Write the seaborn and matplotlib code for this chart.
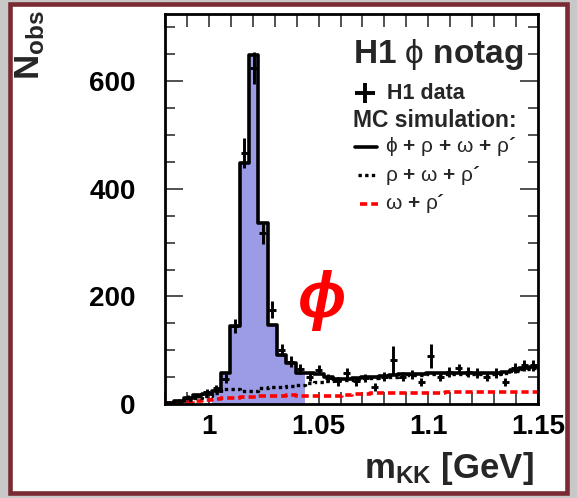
import numpy as np
import pandas as pd
import matplotlib
matplotlib.use("Agg")
import matplotlib.pyplot as plt
import seaborn as sns
from matplotlib.patches import Rectangle
from matplotlib.ticker import MultipleLocator

# binning: 40 bins between 0.98 and 1.15 GeV
bin_lo, bin_hi, n_bins = 0.98, 1.15, 40

# MC total: phi + rho + omega + rho'
mc_total = [2, 5, 11, 16, 18, 25, 57, 145, 448, 649,
            336, 147, 92, 77, 57, 57, 55, 50, 47, 47,
            48, 50, 51, 52, 54, 55, 55, 56, 57, 57,
            58, 58, 58, 58, 57, 58, 60, 64, 67, 68]
# MC rho + omega + rho'
mc_no_phi = [2, 4, 8, 12, 15, 20, 28, 27, 24, 24,
             29, 31, 32, 34, 36, 39, 41, 43, 44, 45,
             46, 48, 49, 50, 51, 52, 53, 54, 55, 55,
             56, 56, 56, 56, 55, 56, 58, 62, 65, 66]
# MC omega + rho'
mc_omega_rhop = [1, 2, 4, 6, 8, 10, 12, 12, 13, 13,
                 14, 15, 15, 16, 15, 15, 15, 15, 15, 16,
                 19, 19, 20, 20, 21, 21, 21, 21, 21, 21,
                 22, 22, 22, 23, 22, 22, 22, 22, 22, 22]
# H1 data and errors
data_vals = [2, 6, 12, 15, 22, 30, 47, 145, 466, 624,
             318, 175, 100, 79, 65, 51, 64, 48, 42, 58,
             42, 48, 32, 51, 82, 51, 55, 41, 89, 51,
             60, 66, 60, 57, 51, 57, 41, 67, 72, 72]
data_errs = [2, 3, 4, 4, 6, 6, 8, 13, 28, 30,
             20, 16, 11, 10, 9, 8, 9, 8, 8, 9,
             8, 8, 7, 8, 26, 8, 8, 8, 23, 8,
             9, 9, 9, 9, 8, 9, 8, 9, 10, 10]
# bins shaded as phi signal region
phi_first, phi_last = 5, 14

xtick_vals = [1.0, 1.05, 1.1, 1.15]
xtick_labels = ["1", "1.05", "1.1", "1.15"]
ytick_vals = [0, 200, 400, 600]
ytick_labels = ["0", "200", "400", "600"]

edges = np.linspace(bin_lo, bin_hi, n_bins + 1)
centers = 0.5 * (edges[:-1] + edges[1:])

df = pd.DataFrame({
    "m": centers,
    "total": mc_total,
    "no_phi": mc_no_phi,
    "omega_rhop": mc_omega_rhop,
    "data": data_vals,
    "err": data_errs,
})
df_phi = df.iloc[phi_first:phi_last + 1]

sns.set_style("ticks")
plt.rcParams["font.family"] = ["Liberation Sans", "DejaVu Sans"]
plt.rcParams["mathtext.fontset"] = "custom"
plt.rcParams["mathtext.rm"] = "Liberation Sans"
plt.rcParams["mathtext.it"] = "Liberation Sans:italic"
plt.rcParams["mathtext.bf"] = "Liberation Sans:bold"

fig = plt.figure(figsize=(5.77, 4.98), dpi=100)
fig.patch.set_facecolor("#c8c8c8")
fig.add_artist(Rectangle((10 / 577, 5 / 498), 556.5 / 577, 488.5 / 498,
                         transform=fig.transFigure, facecolor="white",
                         edgecolor="#7a2a33", linewidth=3.3, zorder=-1))
ax = fig.add_axes([165 / 577, 94 / 498, 373 / 577, 390 / 498])

dots = (0, (1, 1))
dashes = (0, (2.0, 1.1))
sns.histplot(data=df_phi, x="m", weights="total", bins=list(edges[phi_first:phi_last + 2]),
             element="step", fill=True, color="#9b9be6", alpha=1, linewidth=0, ax=ax)
sns.histplot(data=df, x="m", weights="omega_rhop", bins=list(edges), element="step", fill=False,
             color="red", linewidth=2.6, linestyle=dashes, ax=ax)
sns.histplot(data=df, x="m", weights="no_phi", bins=list(edges), element="step", fill=False,
             color="black", linewidth=2.4, linestyle=dots, ax=ax)
sns.histplot(data=df, x="m", weights="total", bins=list(edges), element="step", fill=False,
             color="black", linewidth=2.6, ax=ax)
ax.errorbar(df["m"], df["data"], yerr=df["err"], xerr=0.0016, fmt="none",
            ecolor="black", elinewidth=2.1, capsize=0, zorder=5)

ax.set_xlim(bin_lo, bin_hi)
ax.set_ylim(0, 725)
ax.set_xlabel("")
ax.set_ylabel("")
ax.set_xticks(xtick_vals)
ax.set_xticklabels(xtick_labels, fontweight="bold")
ax.set_yticks(ytick_vals)
ax.set_yticklabels(ytick_labels, fontweight="bold")
ax.xaxis.set_minor_locator(MultipleLocator(0.01))
ax.yaxis.set_minor_locator(MultipleLocator(50))
ax.tick_params(which="both", direction="in", top=True, right=True,
               labelsize=20, labelcolor="black", color="#333333", width=1.2)
ax.tick_params(axis="x", which="major", length=9, pad=7)
ax.tick_params(axis="x", which="minor", length=9)
ax.tick_params(axis="y", which="major", length=13, pad=21)
ax.tick_params(axis="y", which="minor", length=7)
for s in ax.spines.values():
    s.set_linewidth(2.0)
    s.set_color("black")

# axis titles
fig.text(13 / 577, 418 / 498, r"$\mathbf{N_{obs}}$", rotation=90, fontsize=25,
         ha="left", va="bottom")
fig.text(534 / 577, 20 / 498, r"$\mathbf{m_{KK}}$ [GeV]", fontsize=25,
         fontweight="bold", ha="right", va="baseline")

# big phi label
ax.text(1.0514, 193, "ϕ", color="red", fontsize=46, fontstyle="italic",
        fontweight="bold", ha="center", va="center")

# legend block
tr = ax.transAxes
ax.text(0.504, 0.874, r"H1 $\mathrm{\phi}$ notag", transform=tr, fontsize=24,
        fontweight="bold", ha="left", va="baseline")
ax.plot([0.536], [0.797], marker="+", markersize=14, mew=2.8, color="black",
        transform=tr, clip_on=False)
ax.text(0.595, 0.797, "H1 data", transform=tr, fontsize=15.5, fontweight="bold",
        ha="left", va="center")
ax.text(0.504, 0.728, "MC simulation:", transform=tr, fontsize=16.5, fontweight="bold",
        ha="left", va="center")
ax.plot([0.509, 0.568], [0.659, 0.659], color="black", lw=2.6, transform=tr)
ax.text(0.590, 0.659, r"$\mathrm{\phi}$ + $\mathrm{\rho}$ + $\mathrm{\omega}$ + $\mathrm{\rho}$´",
        transform=tr, fontsize=15, fontweight="bold", ha="left", va="center")
ax.plot([0.517, 0.571], [0.587, 0.587], color="black", lw=2.4, ls=dots, transform=tr)
ax.text(0.590, 0.587, r"$\mathrm{\rho}$ + $\mathrm{\omega}$ + $\mathrm{\rho}$´",
        transform=tr, fontsize=15, fontweight="bold", ha="left", va="center")
ax.plot([0.523, 0.571], [0.513, 0.513], color="red", lw=2.6, ls=dashes, transform=tr)
ax.text(0.590, 0.513, r"$\mathrm{\omega}$ + $\mathrm{\rho}$´",
        transform=tr, fontsize=15, fontweight="bold", ha="left", va="center")

fig.savefig("out.png", dpi=100, facecolor=fig.get_facecolor())
